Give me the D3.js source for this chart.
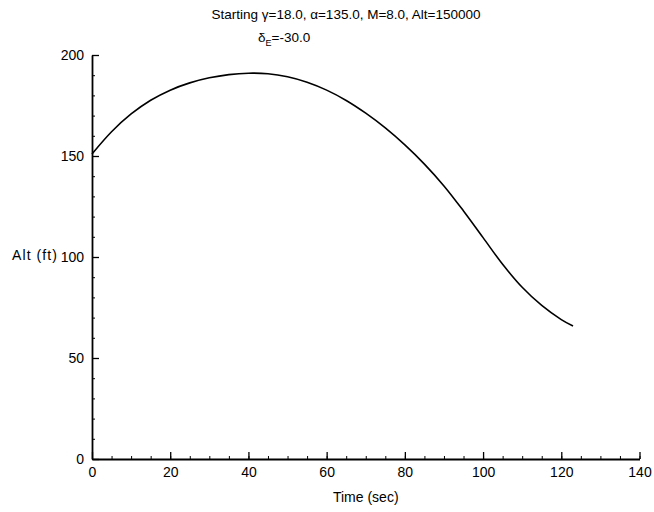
<!DOCTYPE html>
<html>
<head>
<meta charset="utf-8">
<script src="https://cdn.jsdelivr.net/npm/d3@7"></script>
<style>
  html, body { margin: 0; padding: 0; background: #fff; }
  svg { display: block; }
  text { font-family: "Liberation Sans", Arial, Helvetica, sans-serif; fill: #000; }
</style>
</head>
<body>
<svg id="chart" width="654" height="512"></svg>
<script>
// ---- data ----
const timeSec = [0, 5, 10, 15, 20, 25, 30, 35, 40, 45, 50, 55, 60, 65, 70, 75, 80, 85, 90, 95, 100, 105, 110, 115, 120, 123];
const altitude = [151, 162, 170.8, 177.6, 182.6, 186.2, 188.7, 190.3, 191, 190.7, 189.2, 186.5, 182.6, 177.5, 171.2, 163.9, 155.5, 146, 135.2, 122.8, 109.6, 96.4, 85, 76, 69, 65.8];
const xTicks = [0, 20, 40, 60, 80, 100, 120, 140];
const yTicks = [0, 50, 100, 150, 200];
const xMinorTicks = d3.range(0, 141, 5);
const yMinorTicks = d3.range(0, 201, 10);
const titleLine1 = "Starting \u03b3=18.0, \u03b1=135.0, M=8.0, Alt=150000";
const xLabel = "Time (sec)";
const yLabel = "Alt (ft)";

// ---- layout ----
const svg = d3.select("#chart");
const x = d3.scaleLinear().domain([0, 140]).range([92, 639.5]);
const y = d3.scaleLinear().domain([0, 200]).range([459, 55]);

// minor ticks
svg.append("g")
  .attr("transform", `translate(0,${y(0)})`)
  .call(d3.axisBottom(x).tickValues(xMinorTicks).tickSizeInner(-3).tickSizeOuter(0).tickFormat(""))
  .call(g => g.select(".domain").remove())
  .selectAll("line").attr("stroke", "#000").attr("stroke-width", 1);
svg.append("g")
  .attr("transform", `translate(${x(0)},0)`)
  .call(d3.axisLeft(y).tickValues(yMinorTicks).tickSizeInner(-3).tickSizeOuter(0).tickFormat(""))
  .call(g => g.select(".domain").remove())
  .selectAll("line").attr("stroke", "#000").attr("stroke-width", 1);

// major axes
const xAxis = svg.append("g")
  .attr("transform", `translate(0,${y(0)})`)
  .call(d3.axisBottom(x).tickValues(xTicks).tickSizeInner(-7).tickSizeOuter(0).tickPadding(8).tickFormat(d3.format("d")));
xAxis.select(".domain").attr("stroke", "#000").attr("stroke-width", 1.8);
xAxis.selectAll(".tick line").attr("stroke", "#000").attr("stroke-width", 1.3);
xAxis.selectAll(".tick text").attr("font-size", 14).attr("fill", "#000")
  .style("font-family", '"Liberation Sans", Arial, sans-serif');

const yAxis = svg.append("g")
  .attr("transform", `translate(${x(0)},0)`)
  .call(d3.axisLeft(y).tickValues(yTicks).tickSizeInner(-7).tickSizeOuter(0).tickPadding(8).tickFormat(d3.format("d")));
yAxis.select(".domain").attr("stroke", "#000").attr("stroke-width", 1.8);
yAxis.selectAll(".tick line").attr("stroke", "#000").attr("stroke-width", 1.3);
yAxis.selectAll(".tick text").attr("font-size", 14).attr("fill", "#000")
  .style("font-family", '"Liberation Sans", Arial, sans-serif');

// curve
const line = d3.line().x((d, i) => x(timeSec[i])).y(d => y(d)).curve(d3.curveCatmullRom.alpha(0.5));
svg.append("path")
  .datum(altitude)
  .attr("d", line)
  .attr("fill", "none")
  .attr("stroke", "#000")
  .attr("stroke-width", 1.6);

// title
svg.append("text")
  .attr("x", 346).attr("y", 19)
  .attr("text-anchor", "middle")
  .attr("font-size", 13.5)
  .text(titleLine1);
const t2 = svg.append("text")
  .attr("x", 258).attr("y", 42)
  .attr("font-size", 13.5);
t2.append("tspan").text("\u03b4");
t2.append("tspan").attr("font-size", 9).attr("dy", 4).text("E");
t2.append("tspan").attr("dy", -4).text("=-30.0");

// axis labels
svg.append("text")
  .attr("x", x(70)).attr("y", 502)
  .attr("text-anchor", "middle")
  .attr("font-size", 14)
  .text(xLabel);
svg.append("text")
  .attr("x", 12).attr("y", 260)
  .attr("font-size", 14)
  .attr("textLength", 45)
  .text(yLabel);
</script>
</body>
</html>
